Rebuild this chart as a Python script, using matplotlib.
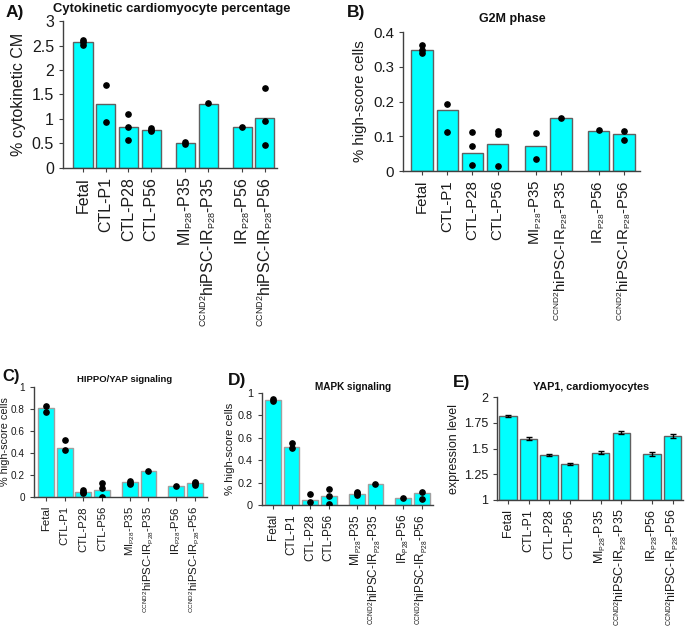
import numpy as np
import matplotlib
matplotlib.use("Agg")
import matplotlib.pyplot as plt
import matplotlib._mathtext as _mt

plt.rcParams['font.family'] = ['Liberation Sans', 'DejaVu Sans']
plt.rcParams['mathtext.fontset'] = 'custom'
plt.rcParams['mathtext.rm'] = 'Liberation Sans'
plt.rcParams['mathtext.it'] = 'Liberation Sans:italic'
plt.rcParams['mathtext.bf'] = 'Liberation Sans:bold'
# sub/superscripts in the labels are about half size
_mt.SHRINK_FACTOR = 0.56

# Group labels (shared by all panels)
groups = ["Fetal", "CTL-P1", "CTL-P28", "CTL-P56",
          r"MI$_\mathrm{P28}$-P35", r"$^\mathrm{CCND2}$hiPSC-IR$_\mathrm{P28}$-P35",
          r"IR$_\mathrm{P28}$-P56", r"$^\mathrm{CCND2}$hiPSC-IR$_\mathrm{P28}$-P56"]

# A) Cytokinetic cardiomyocyte percentage
cyto_mean = [2.57, 1.30, 0.84, 0.77, 0.51, 1.31, 0.83, 1.02]
cyto_pts = [[2.61, 2.57, 2.52], [1.69, 0.93], [1.10, 0.84, 0.58], [0.81, 0.78, 0.75],
            [0.53, 0.49], [1.32], [0.83], [1.63, 0.95, 0.46]]

# B) G2M phase
g2m_mean = [0.349, 0.175, 0.053, 0.079, 0.073, 0.152, 0.116, 0.107]
g2m_pts = [[0.364, 0.347, 0.340], [0.194, 0.112], [0.113, 0.072, 0.018],
           [0.115, 0.106, 0.014], [0.110, 0.035], [0.152], [0.117], [0.115, 0.090]]

# C) HIPPO/YAP signaling
hippo_mean = [0.81, 0.45, 0.05, 0.065, 0.135, 0.24, 0.10, 0.13]
hippo_pts = [[0.83, 0.77], [0.52, 0.43], [0.064, 0.048, 0.033], [0.125, 0.079, 0.003],
             [0.15, 0.13, 0.12], [0.24], [0.10], [0.14, 0.125, 0.11]]

# D) MAPK signaling
mapk_mean = [0.937, 0.516, 0.045, 0.08, 0.098, 0.19, 0.06, 0.105]
mapk_pts = [[0.946, 0.93], [0.555, 0.513], [0.095, 0.024], [0.14, 0.08, 0.006],
            [0.12, 0.105, 0.085], [0.19], [0.06], [0.12, 0.055]]

# E) YAP1 expression in cardiomyocytes
yap1_mean = [1.818, 1.594, 1.435, 1.351, 1.458, 1.653, 1.445, 1.623]
yap1_err = [0.012, 0.014, 0.01, 0.008, 0.015, 0.016, 0.018, 0.02]

W, H = 685, 626
fig = plt.figure(figsize=(W / 100, H / 100), dpi=100)

xpos = np.array([1, 2, 3, 4, 5.5, 6.5, 8, 9])


def px_axes(left, top, right, bottom):
    return fig.add_axes([left / W, 1 - bottom / H, (right - left) / W, (bottom - top) / H])


def panel(ax, means, pts=None, err=None, ylim=(0, 1), yticks=None, ylabel='',
          xlim=(0.3, 9.6), fs=8, yfs=None, lfs=None, edge='#606060', labelpad=4):
    base = ylim[0]
    ax.bar(xpos, np.array(means) - base, bottom=base, width=0.84, color='#00ffff',
           edgecolor=edge, linewidth=1, zorder=2)
    if pts is not None:
        for x, p in zip(xpos, pts):
            ax.plot([x] * len(p), p, 'o', color='black', ms=3.8, zorder=3)
    if err is not None:
        ax.errorbar(xpos, means, yerr=err, fmt='none', ecolor='black', elinewidth=1,
                    capsize=2, capthick=1, zorder=3)
    ax.set_xlim(*xlim)
    ax.set_ylim(*ylim)
    if yticks is not None:
        ax.set_yticks(yticks)
    ax.yaxis.set_major_formatter(matplotlib.ticker.FormatStrFormatter('%g'))
    ax.set_xticks(xpos)
    ax.set_xticklabels(groups, rotation=90, fontsize=fs)
    ax.tick_params(axis='both', direction='out', length=3, width=0.8, colors='#404040',
                   labelcolor='#1a1a1a')
    ax.tick_params(axis='x', labelsize=fs)
    ax.tick_params(axis='y', labelsize=yfs or fs)
    ax.set_ylabel(ylabel, fontsize=lfs or fs, color='#1a1a1a', labelpad=labelpad)
    for s in ['top', 'right']:
        ax.spines[s].set_visible(False)
    for s in ['left', 'bottom']:
        ax.spines[s].set_color('#404040')
        ax.spines[s].set_linewidth(1)


axA = px_axes(63, 21, 277, 168)
panel(axA, cyto_mean, cyto_pts, ylim=(0, 3), yticks=[0, 0.5, 1, 1.5, 2, 2.5, 3],
      ylabel='% cytokinetic CM', xlim=(0.12, 9.53), fs=11.5)

axB = px_axes(403, 32, 640, 171)
panel(axB, g2m_mean, g2m_pts, ylim=(0, 0.4), yticks=[0, 0.1, 0.2, 0.3, 0.4],
      ylabel='% high-score cells', xlim=(0.25, 9.63), fs=10.8)

axC = px_axes(34, 387, 207, 497)
panel(axC, hippo_mean, hippo_pts, ylim=(0, 1), yticks=[0, 0.2, 0.4, 0.6, 0.8, 1],
      ylabel='% high-score cells', xlim=(0.35, 9.65), fs=8.2, yfs=7.2, lfs=7.8,
      edge='#a0a0a0', labelpad=1)

axD = px_axes(262, 393, 433, 505)
panel(axD, mapk_mean, mapk_pts, ylim=(0, 1), yticks=[0, 0.2, 0.4, 0.6, 0.8, 1],
      ylabel='% high-score cells', xlim=(0.41, 9.6), fs=8.5, yfs=7.8, lfs=8.2,
      edge='#a0a0a0', labelpad=2)

axE = px_axes(497, 397, 683, 500)
panel(axE, yap1_mean, err=yap1_err, ylim=(1, 2), yticks=[1, 1.25, 1.5, 1.75, 2],
      ylabel='expression level', xlim=(0.47, 9.5), fs=9, labelpad=3)


def ftext(x, y, s, size, **kw):
    fig.text(x / W, 1 - y / H, s, fontsize=size, fontweight='bold', ha='center',
             va='center', color='#111111', **kw)


# panel titles
ftext(172, 9, 'Cytokinetic cardiomyocyte percentage', 9.4)
ftext(512, 19, 'G2M phase', 9)
ftext(125, 379, 'HIPPO/YAP signaling', 6.8)
ftext(353, 387, 'MAPK signaling', 7.2)
ftext(591, 387, 'YAP1, cardiomyocytes', 7.8)

# panel letters
ftext(15, 12, 'A)', 12.5)
ftext(356, 13, 'B)', 12.5)
ftext(11, 376, 'C)', 12)
ftext(237, 380, 'D)', 12.5)
ftext(462, 383, 'E)', 12.5)

fig.savefig('out.png', dpi=100)
